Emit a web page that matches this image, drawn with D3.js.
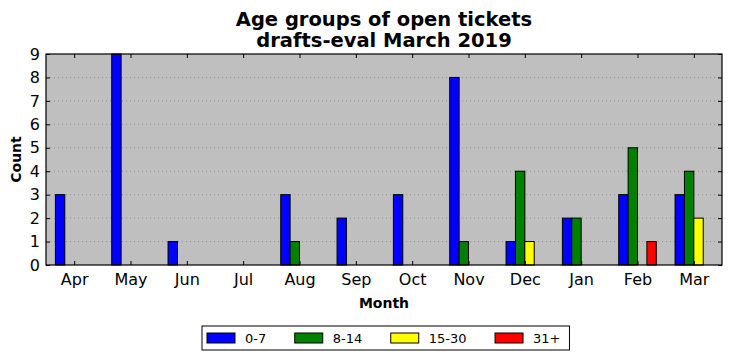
<!DOCTYPE html>
<html>
<head>
<meta charset="utf-8">
<script src="https://cdn.jsdelivr.net/npm/d3@7"></script>
<style>
  body { margin: 0; background: #fff; }
  text { font-family: "DejaVu Sans", sans-serif; }
</style>
</head>
<body>
<div id="chart"></div>
<script>
const months = ["Apr", "May", "Jun", "Jul", "Aug", "Sep", "Oct", "Nov", "Dec", "Jan", "Feb", "Mar"];
const groups = ["0-7", "8-14", "15-30", "31+"];
const colors = ["#0000ff", "#008000", "#ffff00", "#ff0000"];
const age0to7 = [3, 9, 1, 0, 3, 2, 3, 8, 1, 2, 3, 3];
const age8to14 = [0, 0, 0, 0, 1, 0, 0, 1, 4, 2, 5, 4];
const age15to30 = [0, 0, 0, 0, 0, 0, 0, 0, 1, 0, 0, 2];
const age31plus = [0, 0, 0, 0, 0, 0, 0, 0, 0, 0, 1, 0];
const yTicks = [0, 1, 2, 3, 4, 5, 6, 7, 8, 9];

const series = [age0to7, age8to14, age15to30, age31plus];

const width = 732, height = 361;
const margin = {top: 54, right: 10, bottom: 96, left: 46};
const barW = 1 / 6;

const svg = d3.select("#chart").append("svg")
    .attr("width", width)
    .attr("height", height);

const x = d3.scaleLinear().domain([-0.5, months.length - 0.5]).range([margin.left, width - margin.right]);
const y = d3.scaleLinear().domain([0, 9]).range([height - margin.bottom, margin.top]);

// plot background
svg.append("rect")
    .attr("x", x.range()[0]).attr("y", y(9))
    .attr("width", x.range()[1] - x.range()[0])
    .attr("height", y(0) - y(9))
    .attr("fill", "#bfbfbf");

// grid
svg.append("g").selectAll("line").data(yTicks.slice(1, -1)).join("line")
    .attr("x1", x.range()[0]).attr("x2", x.range()[1])
    .attr("y1", d => y(d)).attr("y2", d => y(d))
    .attr("stroke", "#888").attr("stroke-width", 0.8)
    .attr("stroke-dasharray", "1,3");

// bars
series.forEach((vals, gi) => {
    svg.append("g").selectAll("rect").data(vals).join("rect")
        .attr("x", (d, i) => x(i + (gi - 2) * barW))
        .attr("y", d => y(d))
        .attr("width", x(barW) - x(0))
        .attr("height", d => y(0) - y(d))
        .attr("fill", colors[gi])
        .attr("stroke", "#000")
        .attr("stroke-width", 1);
});

// axes (ticks inward, classic style)
const bottomAxis = d3.axisBottom(x).tickValues(d3.range(months.length))
    .tickFormat(i => months[i]).tickSizeInner(-4).tickSizeOuter(0).tickPadding(9);
const topAxis = d3.axisTop(x).tickValues(d3.range(months.length))
    .tickFormat("").tickSizeInner(-4).tickSizeOuter(0);
const leftAxis = d3.axisLeft(y).tickValues(yTicks).tickSizeInner(-4).tickSizeOuter(0).tickPadding(6);
const rightAxis = d3.axisRight(y).tickValues(yTicks).tickFormat("").tickSizeInner(-4).tickSizeOuter(0);

function styleAxis(g) {
    g.select(".domain").remove();
    g.selectAll(".tick line").attr("stroke", "#000");
    g.selectAll(".tick text").attr("fill", "#000").style("font-size", "16px")
        .style("font-family", "DejaVu Sans");
}

svg.append("g").attr("transform", `translate(0,${y(0)})`).call(bottomAxis).call(styleAxis);
svg.append("g").attr("transform", `translate(0,${y(9)})`).call(topAxis).call(styleAxis);
svg.append("g").attr("transform", `translate(${x.range()[0]},0)`).call(leftAxis).call(styleAxis);
svg.append("g").attr("transform", `translate(${x.range()[1]},0)`).call(rightAxis).call(styleAxis);

// frame
svg.append("rect")
    .attr("x", x.range()[0]).attr("y", y(9))
    .attr("width", x.range()[1] - x.range()[0])
    .attr("height", y(0) - y(9))
    .attr("fill", "none").attr("stroke", "#000").attr("stroke-width", 1.2);

// title
const cx = (x.range()[0] + x.range()[1]) / 2;
svg.append("text").attr("x", cx).attr("y", 26).attr("text-anchor", "middle")
    .style("font-size", "19.5px").style("font-weight", "bold").text("Age groups of open tickets");
svg.append("text").attr("x", cx).attr("y", 47).attr("text-anchor", "middle")
    .style("font-size", "19.5px").style("font-weight", "bold").text("drafts-eval March 2019");

// axis labels
svg.append("text").attr("x", cx).attr("y", 308).attr("text-anchor", "middle")
    .style("font-size", "14px").style("font-weight", "bold").text("Month");
svg.append("text").attr("transform", `translate(21,${(y(0) + y(9)) / 2}) rotate(-90)`)
    .attr("text-anchor", "middle")
    .style("font-size", "14px").style("font-weight", "bold").text("Count");

// legend
const legend = svg.append("g");
const legBox = legend.append("rect")
    .attr("fill", "#fff").attr("stroke", "#000").attr("stroke-width", 1);
let lx = 207;
const ly = 338;
groups.forEach((g, i) => {
    legend.append("rect").attr("x", lx).attr("y", ly - 5).attr("width", 28).attr("height", 10)
        .attr("fill", colors[i]).attr("stroke", "#000").attr("stroke-width", 1);
    const t = legend.append("text").attr("x", lx + 38).attr("y", ly + 5)
        .style("font-size", "13px").text(g);
    lx = lx + 38 + t.node().getComputedTextLength() + 28.5;
});
legBox.attr("x", 202).attr("y", 326).attr("width", lx - 28.5 + 9 - 202).attr("height", 24);
</script>
</body>
</html>
